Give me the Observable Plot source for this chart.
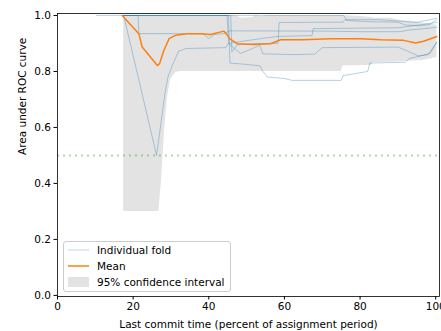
<!DOCTYPE html>
<html>
<head>
<meta charset="utf-8">
<script src="https://cdn.jsdelivr.net/npm/d3@7"></script>
<script src="https://cdn.jsdelivr.net/npm/@observablehq/plot@0.6"></script>
<style>
  html, body { margin: 0; padding: 0; background: #fff; }
  #wrap { position: relative; width: 441px; height: 331px; font-family: "DejaVu Sans", sans-serif; }
  #legend { position: absolute; left: 63px; top: 241px; width: 166px; height: 49px;
    border: 1px solid #cccccc; border-radius: 3px; background: rgba(255,255,255,0.85);
    font-size: 10.5px; color: #000; }
  .row { position: absolute; left: 0; height: 14px; width: 100%; }
  .sw { position: absolute; left: 4px; top: 0; }
  .lbl { position: absolute; left: 33px; top: 0; line-height: 14px; white-space: nowrap; }
</style>
</head>
<body>
<div id="wrap"></div>
<script>
// ---- data ----
const xTicks = [0, 20, 40, 60, 80, 100];
const yTicks = [0, 0.2, 0.4, 0.6, 0.8, 1.0];
const chanceLevel = 0.5;

// [x, y] per individual fold
const fold1 = [[10.3,1.0],[75.7,1.0],[76.5,0.982],[82,0.978],[90,0.976],[92,0.966],[96,0.963],[98.5,0.968],[100.3,0.985]];
const fold2 = [[17.5,1.0],[21.3,1.0],[21.5,0.935],[38.5,0.935],[40,0.918],[41.5,0.932],[44,0.935],[45.5,0.945],[72,0.944],[80,0.942],[90.5,0.942],[93,0.948],[97,0.953],[100.3,0.958]];
const fold3 = [[17.5,1.0],[26.2,0.5],[28.4,0.72],[29.2,0.78],[30.3,0.82],[32,0.872],[34,0.882],[44.5,0.885],[45.2,0.9],[48.4,0.864],[53.5,0.893],[54.3,0.863],[63,0.86],[68,0.862],[70,0.885],[90,0.887],[93,0.87],[95.5,0.855],[98,0.86],[100.3,0.905]];
const fold4 = [[17.5,1.0],[45.8,1.0],[46.1,0.87],[47.5,0.895],[53,0.9],[58.3,0.9],[58.6,0.975],[75.5,0.976],[76,0.985],[85,0.985],[90,0.98],[95,0.975],[100.3,0.99]];
const fold5 = [[17.5,1.0],[45.2,1.0],[45.6,0.83],[50,0.825],[53.5,0.82],[54.3,0.8],[55.5,0.78],[60,0.775],[62,0.768],[75,0.768],[75.5,0.785],[82,0.8],[82.6,0.83],[92,0.833],[93,0.846],[98.5,0.864],[100.3,0.905]];
const fold6 = [[17.5,1.0],[44.8,1.0],[45.3,0.9],[50,0.91],[58,0.925],[67.3,0.928],[67.6,0.953],[90,0.956],[95,0.965],[100.3,0.975]];
const folds = [fold1, fold2, fold3, fold4, fold5, fold6];

// mean curve [x, y]
const meanCurve = [[17.1,1.0],[21.5,0.935],[22.4,0.887],[26.4,0.821],[27.0,0.828],[28.1,0.875],[29.5,0.917],[31.2,0.929],[34.3,0.935],[37.8,0.935],[40.5,0.932],[44,0.944],[44.9,0.93],[45.5,0.917],[47.5,0.899],[51.9,0.896],[56.3,0.899],[59,0.913],[65,0.913],[72.2,0.917],[80.2,0.917],[85.4,0.913],[91.5,0.911],[94.7,0.902],[96.8,0.908],[100.3,0.925]];

// 95% confidence band [x, lower, upper]
const band = [[17.5,0.30,1.0],[26.8,0.30,1.0],[27.5,0.41,1.0],[28.3,0.59,1.0],[29.1,0.71,1.0],[29.9,0.77,1.0],[31.2,0.796,1.0],[32.5,0.80,1.0],[47.2,0.80,1.0],[48.5,0.80,0.99],[51.5,0.80,0.992],[52.5,0.80,1.0],[54,0.80,0.995],[55.5,0.80,1.0],[75,0.80,1.0],[75.5,0.82,1.0],[80,0.82,0.996],[83,0.822,0.993],[83.5,0.832,0.99],[88,0.833,0.99],[91,0.835,0.982],[95,0.838,0.977],[97,0.84,0.972],[100.3,0.85,0.965]];

const legendLabels = ["Individual fold", "Mean", "95% confidence interval"];

// ---- build ----
const foldRows = folds.flatMap((f, i) => f.map(([x, y]) => ({fold: i, x, y})));

const chart = Plot.plot({
  width: 441,
  height: 331,
  marginLeft: 57,
  marginRight: 2,
  marginTop: 13,
  marginBottom: 35,
  style: {fontFamily: "DejaVu Sans, sans-serif", fontSize: "10.5px", color: "#000", background: "#fff"},
  x: {domain: [0, 101]},
  y: {domain: [-0.004, 1.007]},
  marks: [
    Plot.areaY(band, {x: d => d[0], y1: d => d[1], y2: d => d[2], fill: "#e3e3e3"}),
    Plot.ruleY([chanceLevel], {stroke: "#2ca02c", strokeOpacity: 0.38, strokeWidth: 2, strokeDasharray: "2,4"}),
    Plot.line(foldRows, {x: "x", y: "y", z: "fold", stroke: "#1f77b4", strokeOpacity: 0.33, strokeWidth: 1}),
    Plot.line(meanCurve, {x: d => d[0], y: d => d[1], stroke: "#ff7f0e", strokeWidth: 1.5}),
    Plot.frame({stroke: "#000", strokeWidth: 0.8}),
    Plot.axisX({ticks: xTicks, tickSize: 3.5, tickPadding: 3, label: null, fontSize: 10.5}),
    Plot.axisY({ticks: yTicks, tickSize: 3.5, tickPadding: 3, tickFormat: d3.format(".1f"), label: null, fontSize: 10.5}),
    Plot.text(["Last commit time (percent of assignment period)"], {frameAnchor: "bottom", dy: 28, lineAnchor: "middle", fontSize: 10.5}),
    Plot.text(["Area under ROC curve"], {frameAnchor: "left", dx: -35, rotate: -90, lineAnchor: "middle", fontSize: 10.5})
  ]
});

const wrap = document.getElementById("wrap");
wrap.appendChild(chart);

const legend = document.createElement("div");
legend.id = "legend";
const swatches = [
  '<svg class="sw" width="22" height="14"><line x1="0" x2="21" y1="7" y2="7" stroke="#1f77b4" stroke-opacity="0.3" stroke-width="1"/></svg>',
  '<svg class="sw" width="22" height="14"><line x1="0" x2="21" y1="7" y2="7" stroke="#ff7f0e" stroke-width="1.5"/></svg>',
  '<svg class="sw" width="22" height="14"><rect x="0" y="2" width="21" height="10" fill="#e3e3e3"/></svg>'
];
const rowTops = [1, 17, 33];
legend.innerHTML = legendLabels.map((t, i) =>
  `<div class="row" style="top:${rowTops[i]}px">${swatches[i]}<span class="lbl">${t}</span></div>`
).join("");
wrap.appendChild(legend);
</script>
</body>
</html>
